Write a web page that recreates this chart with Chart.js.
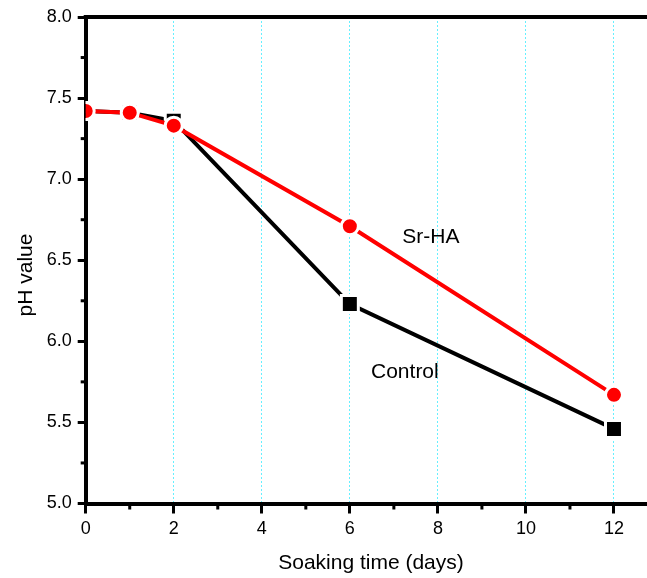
<!DOCTYPE html>
<html><head><meta charset="utf-8">
<script src="https://cdn.jsdelivr.net/npm/chart.js@4"></script>
<style>html,body{margin:0;padding:0;background:#fff}#wrap{width:647px;height:578px}</style>
</head><body><div id="wrap"><canvas id="c" width="647" height="578"></canvas></div>
<script>
const days = [0, 1, 2, 6, 12];
const srHA = [7.42, 7.41, 7.33, 6.71, 5.67];
const control = [7.42, 7.41, 7.36, 6.23, 5.46];
const xTicks = [0, 2, 4, 6, 8, 10, 12];
const xMinor = [1, 3, 5, 7, 9, 11];
const yTicks = [5.0, 5.5, 6.0, 6.5, 7.0, 7.5, 8.0];
const yMinor = [5.25, 5.75, 6.25, 6.75, 7.25, 7.75];
const seriesNames = ['Sr-HA', 'Control'];
const annotations = [
  { text: 'Sr-HA', x: 7.84, y: 6.64 },
  { text: 'Control', x: 7.25, y: 5.81 }
];
const xTitle = 'Soaking time (days)';
const yTitle = 'pH value';

const FONT = '"Liberation Sans", Arial, sans-serif';

const extras = {
  id: 'extras',
  afterDraw(chart) {
    const ctx = chart.ctx, ca = chart.chartArea;
    const xs = chart.scales.x, ys = chart.scales.y;
    ctx.save();
    ctx.strokeStyle = '#000';
    // top border
    ctx.lineWidth = 4;
    ctx.beginPath();
    ctx.moveTo(ca.left - 2, ca.top);
    ctx.lineTo(ca.right, ca.top);
    ctx.stroke();
    // minor ticks
    ctx.lineWidth = 3;
    xMinor.forEach(v => {
      const px = xs.getPixelForValue(v);
      ctx.beginPath();
      ctx.moveTo(px, ca.bottom);
      ctx.lineTo(px, ca.bottom + 6);
      ctx.stroke();
    });
    yMinor.forEach(v => {
      const py = ys.getPixelForValue(v);
      ctx.beginPath();
      ctx.moveTo(ca.left, py);
      ctx.lineTo(ca.left - 5, py);
      ctx.stroke();
    });
    // annotations
    ctx.fillStyle = '#000';
    ctx.font = '21px ' + FONT;
    ctx.textAlign = 'center';
    ctx.textBaseline = 'middle';
    annotations.forEach(a => {
      ctx.fillText(a.text, xs.getPixelForValue(a.x), ys.getPixelForValue(a.y));
    });
    // axis titles
    ctx.fillText(xTitle, 371, 563);
    ctx.translate(26, 275);
    ctx.rotate(-Math.PI / 2);
    ctx.fillText(yTitle, 0, 0);
    ctx.restore();
  }
};

new Chart(document.getElementById('c'), {
  type: 'line',
  data: {
    datasets: [
      {
        label: seriesNames[0],
        data: days.map((d, i) => ({ x: d, y: srHA[i] })),
        borderColor: '#ff0000',
        backgroundColor: '#ff0000',
        borderWidth: 4,
        pointStyle: 'circle',
        pointRadius: 8.5,
        pointBackgroundColor: '#ff0000',
        pointBorderColor: '#ffffff',
        pointBorderWidth: 3,
        tension: 0
      },
      {
        label: seriesNames[1],
        data: days.map((d, i) => ({ x: d, y: control[i] })),
        borderColor: '#000000',
        backgroundColor: '#000000',
        borderWidth: 4,
        pointStyle: 'rect',
        pointRadius: 12,
        pointBackgroundColor: '#000000',
        pointBorderColor: '#ffffff',
        pointBorderWidth: 3,
        tension: 0
      }
    ]
  },
  options: {
    responsive: false,
    devicePixelRatio: 1,
    animation: false,
    events: [],
    layout: { autoPadding: false, padding: { top: 17, right: 0, left: 0, bottom: 0 } },
    plugins: { legend: { display: false }, tooltip: { enabled: false } },
    scales: {
      x: {
        type: 'linear',
        min: 0,
        max: 12.75,
        afterBuildTicks: s => { s.ticks = xTicks.map(v => ({ value: v })); },
        afterFit: s => { s.height = 74.5; s.paddingRight = 0; s.paddingLeft = 0; },
        ticks: {
          color: '#000',
          font: { family: FONT, size: 18 },
          padding: 5,
          maxRotation: 0,
          callback: v => String(v)
        },
        grid: {
          color: c => (c.tick && c.tick.value === 0) ? 'rgba(0,0,0,0)' : '#66f0ff',
          lineWidth: 1,
          tickColor: '#000',
          tickWidth: 3,
          tickLength: 10,
          tickBorderDash: []
        },
        border: { color: '#000', width: 4, dash: [2, 2] }
      },
      y: {
        min: 5,
        max: 8,
        afterBuildTicks: s => { s.ticks = yTicks.map(v => ({ value: v })); },
        afterFit: s => { s.width = 85.7; s.paddingTop = 0; s.paddingBottom = 0; },
        ticks: {
          color: '#000',
          font: { family: FONT, size: 18 },
          padding: 6,
          callback: v => Number(v).toFixed(1)
        },
        grid: {
          drawOnChartArea: false,
          tickColor: '#000',
          tickWidth: 3,
          tickLength: 8
        },
        border: { color: '#000', width: 4 }
      }
    }
  },
  plugins: [extras]
});
</script>
</body></html>
